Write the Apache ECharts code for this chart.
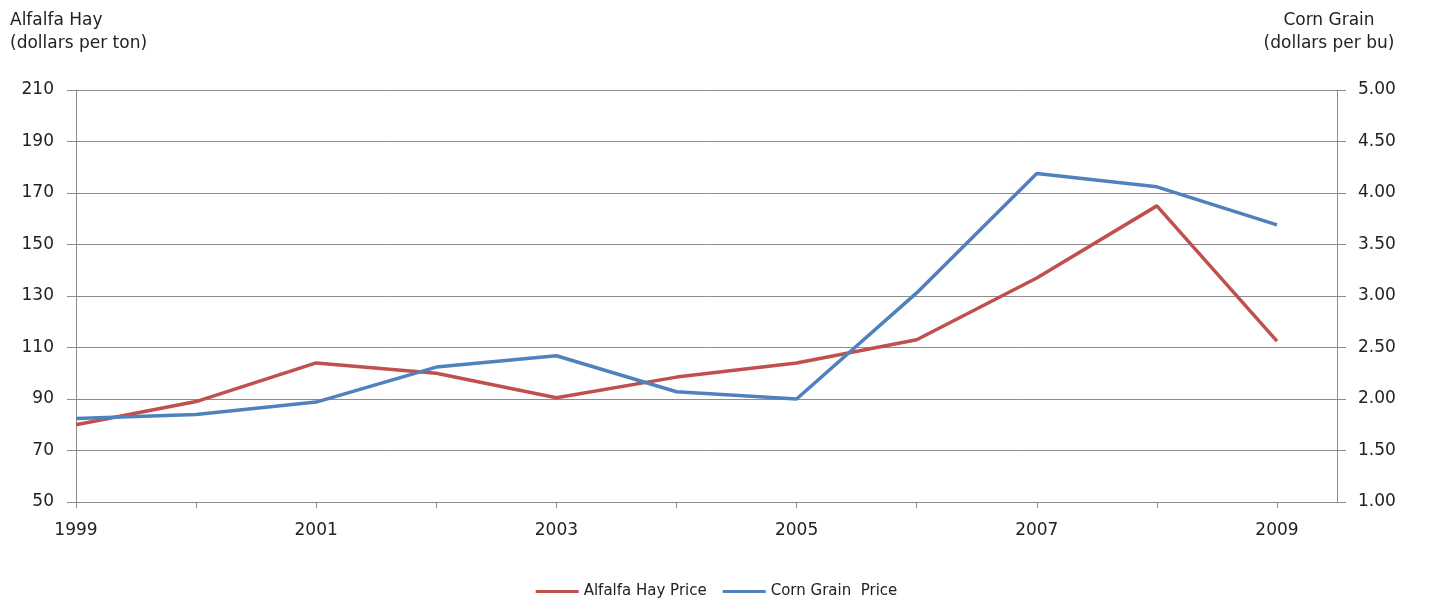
<!DOCTYPE html>
<html>
<head>
<meta charset="utf-8">
<script src="https://cdn.jsdelivr.net/npm/echarts@6/dist/echarts.min.js"></script>
<style>
  html, body { margin: 0; padding: 0; background: #fff; }
  #chart { width: 1433px; height: 599px; }
</style>
</head>
<body>
<div id="chart"></div>
<script>
// Annual prices, 1999-2009
const years = [1999, 2000, 2001, 2002, 2003, 2004, 2005, 2006, 2007, 2008, 2009];
const alfalfaHay = [80, 89, 104, 100, 90.5, 98.5, 104, 113, 137, 165, 112.5];
const cornGrain = [1.81, 1.85, 1.97, 2.31, 2.42, 2.07, 2.00, 3.03, 4.19, 4.06, 3.69];
const yearLabels = [1999, 2001, 2003, 2005, 2007, 2009];

const FONT = '"DejaVu Sans", "Liberation Sans", Arial, sans-serif';
const TEXT = '#222';
const AXIS = '#8c8c8c';

const chart = echarts.init(document.getElementById('chart'), null, { renderer: 'canvas' });

chart.setOption({
  animation: false,
  backgroundColor: '#fff',
  textStyle: { fontFamily: FONT },
  grid: { left: 76, right: 96, top: 90, bottom: 97, containLabel: false },
  graphic: [
    {
      type: 'text', x: 10, y: 9,
      style: { text: 'Alfalfa Hay\n(dollars per ton)', font: '17px ' + FONT, fill: TEXT, lineHeight: 23, align: 'left' }
    },
    {
      type: 'text', x: 1329, y: 9,
      style: { text: 'Corn Grain\n(dollars per bu)', font: '17px ' + FONT, fill: TEXT, lineHeight: 23, align: 'center' }
    }
  ],
  legend: {
    top: 579,
    left: 'center',
    itemWidth: 43,
    itemHeight: 3,
    itemGap: 16,
    icon: 'rect',
    textStyle: { fontSize: 15, color: TEXT, fontFamily: FONT },
    data: ['Alfalfa Hay Price', 'Corn Grain  Price']
  },
  xAxis: {
    type: 'value',
    min: 1999,
    max: 2009.5,
    interval: 1,
    axisLine: { show: true, lineStyle: { color: AXIS, width: 1 } },
    axisTick: { show: true, length: 6, inside: false, lineStyle: { color: AXIS }, customValues: years },
    axisLabel: { show: true, color: TEXT, fontSize: 17, margin: 20, customValues: yearLabels, formatter: v => String(v) },
    splitLine: { show: false }
  },
  yAxis: [
    {
      type: 'value',
      min: 50, max: 210, interval: 20,
      position: 'left',
      axisLine: { show: true, lineStyle: { color: AXIS } },
      axisTick: { show: true, length: 9, lineStyle: { color: AXIS } },
      axisLabel: { color: TEXT, fontSize: 17, margin: 22, padding: [3, 0, 0, 0] },
      splitLine: { show: true, lineStyle: { color: AXIS, width: 1 } }
    },
    {
      type: 'value',
      min: 1, max: 5, interval: 0.5,
      position: 'right',
      axisLine: { show: true, lineStyle: { color: AXIS } },
      axisTick: { show: true, length: 9, lineStyle: { color: AXIS } },
      axisLabel: { color: TEXT, fontSize: 17, margin: 21, padding: [3, 0, 0, 0], formatter: v => v.toFixed(2) },
      splitLine: { show: false }
    }
  ],
  series: [
    {
      name: 'Alfalfa Hay Price',
      type: 'line',
      yAxisIndex: 0,
      data: years.map((y, i) => [y, alfalfaHay[i]]),
      symbol: 'none',
      lineStyle: { color: '#C0504D', width: 3.5 },
      itemStyle: { color: '#C0504D' }
    },
    {
      name: 'Corn Grain  Price',
      type: 'line',
      yAxisIndex: 1,
      data: years.map((y, i) => [y, cornGrain[i]]),
      symbol: 'none',
      lineStyle: { color: '#4F81BD', width: 3.5 },
      itemStyle: { color: '#4F81BD' }
    }
  ]
});
</script>
</body>
</html>
